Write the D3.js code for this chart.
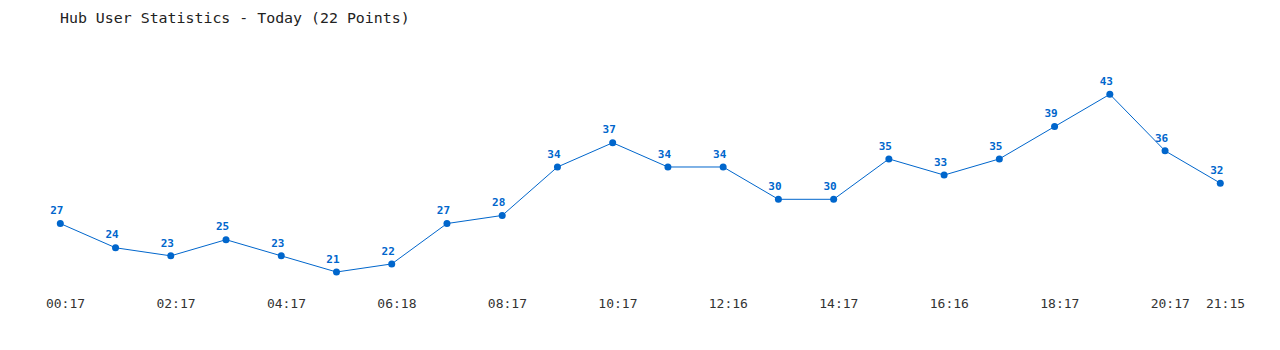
<!DOCTYPE html>
<html>
<head>
<meta charset="utf-8">
<script src="https://cdn.jsdelivr.net/npm/d3@7"></script>
<style>
  html, body { margin: 0; padding: 0; background: #fff; }
  svg { display: block; }
</style>
</head>
<body>
<div id="chart"></div>
<script>
const title = "Hub User Statistics - Today (22 Points)";
const times = ["00:17","01:17","02:17","03:17","04:17","05:17","06:18","07:17","08:17","09:17","10:17","11:16","12:16","13:17","14:17","15:16","16:16","17:17","18:17","19:17","20:17","21:15"];
const users = [27,24,23,25,23,21,22,27,28,34,37,34,34,30,30,35,33,35,39,43,36,32];
const tickLabels = ["00:17","02:17","04:17","06:18","08:17","10:17","12:16","14:17","16:16","18:17","20:17","21:15"];

const W = 1280, H = 350;
const color = "#0066cc";
const mono = "'DejaVu Sans Mono', 'Liberation Mono', monospace";

const svg = d3.select("#chart").append("svg").attr("width", W).attr("height", H);

svg.append("text")
  .attr("x", 60).attr("y", 23.3)
  .attr("font-family", mono).attr("font-size", "14.9px")
  .attr("fill", "#222")
  .text(title);

const x = d3.scalePoint().domain(times).range([60.3, 1220.3]);
const y = d3.scaleLinear().domain([21, 43]).range([272, 94.3]);

const data = times.map((t, i) => ({t, v: users[i]}));

svg.append("path")
  .datum(data)
  .attr("fill", "none")
  .attr("stroke", color)
  .attr("stroke-width", 1)
  .attr("d", d3.line().x(d => x(d.t)).y(d => y(d.v)));

svg.selectAll("circle.pt").data(data).enter().append("circle")
  .attr("class", "pt")
  .attr("cx", d => x(d.t)).attr("cy", d => y(d.v))
  .attr("r", 3.5).attr("fill", color);

svg.selectAll("text.val").data(data).enter().append("text")
  .attr("class", "val")
  .attr("x", d => x(d.t) - 3.5).attr("y", d => y(d.v) - 9.3)
  .attr("text-anchor", "middle")
  .attr("font-family", mono).attr("font-size", "11px").attr("font-weight", "bold")
  .attr("fill", color)
  .text(d => d.v);

const axis = d3.axisBottom(x).tickValues(tickLabels).tickSize(0).tickPadding(0);
const g = svg.append("g").attr("transform", "translate(4.7,0)").call(axis);
g.select(".domain").remove();
g.selectAll("text")
  .attr("y", 307.7).attr("dy", null)
  .attr("font-family", mono).attr("font-size", "13px")
  .attr("fill", "#333");
</script>
</body>
</html>
